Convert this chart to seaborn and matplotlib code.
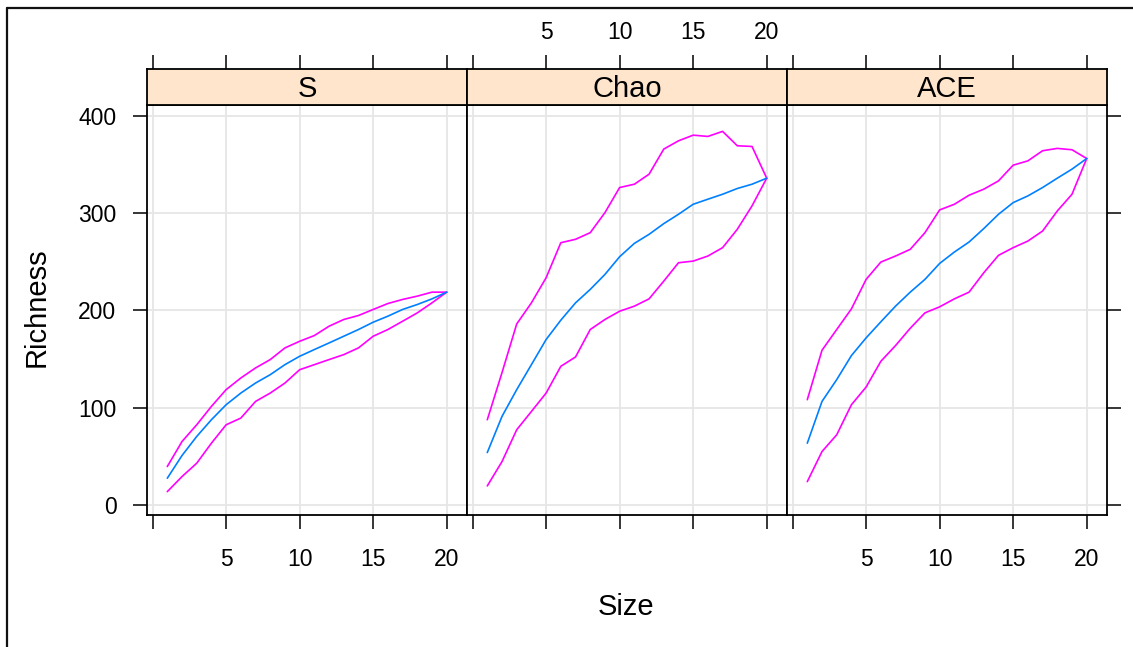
import numpy as np
import pandas as pd
import matplotlib
matplotlib.use("Agg")
import matplotlib.pyplot as plt
from matplotlib.lines import Line2D
import seaborn as sns

# rarefaction-style richness curves
size = list(range(1, 21))

s_mean = [27.5, 50.8, 70.4, 87.6, 103, 115, 125.3, 133.9, 144.2, 152.8,
          159.7, 166.5, 173.4, 180.3, 187.8, 194, 200.9, 206, 211.8, 218.7]
s_upper = [39.5, 65.2, 82.4, 101.3, 118.5, 130.5, 140.8, 149.4, 161.4, 168.2,
           174.1, 183.7, 190.6, 194.7, 200.9, 207, 211.2, 214.6, 218.7, 218.7]
s_lower = [13.7, 29.2, 42.9, 63.5, 82.4, 89.3, 106.4, 115, 125.3, 139,
           144.2, 149.4, 154.5, 161.4, 173.4, 180.3, 188.8, 197.4, 207.7, 218.7]

chao_mean = [53.9, 91, 118.5, 144.2, 170, 189.9, 207.7, 221.5, 236.9, 255.1,
             268.8, 278.1, 289.1, 298.7, 309, 314.2, 319.3, 325.2, 329.6, 335.8]
chao_upper = [87.6, 136, 186, 207.7, 233.5, 269.5, 273, 279.8, 300.4, 326.2,
              329.6, 339.9, 365.7, 374.2, 380, 378.7, 383.9, 369.1, 368.4, 335.8]
chao_lower = [19.6, 44.6, 77.3, 96.1, 115, 142.5, 152.1, 180.3, 190.6, 199.1,
              204.3, 211.8, 230, 248.9, 250.6, 255.8, 264.4, 283.3, 307.3, 335.8]

ace_mean = [63.5, 106.4, 128.8, 153.5, 171.7, 188.2, 204.3, 218.7, 231.8, 248.2,
            259.9, 270.2, 284, 298.7, 310.7, 317.6, 326.2, 335.8, 345.1, 356]
ace_upper = [108.2, 159, 180.3, 201.5, 231.8, 249.6, 255.8, 262.7, 279.8, 303.2,
             309, 318.3, 324.5, 333, 349.2, 353.6, 364, 366.4, 365, 356]
ace_lower = [24, 54.9, 72.1, 103, 121.2, 147.6, 163.8, 181.6, 197.4, 203.6,
             211.8, 218.7, 238.6, 256.5, 264.4, 271.2, 281.5, 302.1, 319.3, 356]

panels = ["S", "Chao", "ACE"]
x_ticks = [0, 5, 10, 15, 20]
x_ticklabels = ["", "5", "10", "15", "20"]
y_ticks = [0, 100, 200, 300, 400]

series = {
    "S": {"mean": s_mean, "upper": s_upper, "lower": s_lower},
    "Chao": {"mean": chao_mean, "upper": chao_upper, "lower": chao_lower},
    "ACE": {"mean": ace_mean, "upper": ace_upper, "lower": ace_lower},
}
rows = []
for p, d in series.items():
    for band, vals in d.items():
        for x, v in zip(size, vals):
            rows.append({"panel": p, "band": band, "Size": x, "Richness": v})
df = pd.DataFrame(rows)

sns.set_theme(style="white")
plt.rcParams["font.family"] = ["Liberation Sans", "DejaVu Sans"]

W, H = 1133, 647
fig = plt.figure(figsize=(W / 100, H / 100), dpi=100)

colors = {"mean": "#0080FF", "upper": "#FF00FF", "lower": "#FF00FF"}
strip_col = "#FFE5CC"
grid_col = "#E6E6E6"
lw_box = 1.3
tick_kw = dict(length=10, width=1.1, color="black", labelsize=16.5,
               labelcolor="black", direction="out")

left0, pw = 147, 320
top_px, bot_px = 105, 515
strip_top = 69.3
xlim = (-0.38, 21.38)
ylim = (-10.3, 411)

for i, p in enumerate(panels):
    x0 = (left0 + i * pw) / W
    ax = fig.add_axes([x0, (H - bot_px) / H, pw / W, (bot_px - top_px) / H])
    sax = fig.add_axes([x0, (H - top_px) / H, pw / W, (top_px - strip_top) / H])

    for yv in y_ticks:
        ax.axhline(yv, color=grid_col, lw=1.3, zorder=0)
    for xv in x_ticks:
        ax.axvline(xv, color=grid_col, lw=1.3, zorder=0)

    sub = df[df["panel"] == p]
    for band in ["upper", "lower", "mean"]:
        sns.lineplot(data=sub[sub["band"] == band], x="Size", y="Richness",
                     color=colors[band], lw=1.2, ax=ax, legend=False)

    ax.set_xlim(*xlim)
    ax.set_ylim(*ylim)
    ax.set_xlabel("")
    ax.set_ylabel("")
    ax.set_facecolor("white")
    for sp in ax.spines.values():
        sp.set_visible(True)
        sp.set_color("black")
        sp.set_linewidth(lw_box)

    ax.set_xticks(x_ticks)
    ax.tick_params(axis="x", which="both", bottom=True, top=False, pad=14, **tick_kw)
    if p == "Chao":
        ax.set_xticklabels([])
    else:
        ax.set_xticklabels(x_ticklabels)

    ax.set_yticks(y_ticks)
    if i == 0:
        ax.tick_params(axis="y", left=True, right=False, pad=12, **tick_kw)
        ax.set_yticklabels([str(v) for v in y_ticks])
    elif i == 2:
        ax.yaxis.tick_right()
        ax.tick_params(axis="y", left=False, right=True, labelright=False, **tick_kw)
    else:
        ax.tick_params(axis="y", left=False, right=False, labelleft=False)

    # strip on top, carrying the top ticks
    sax.set_facecolor(strip_col)
    sax.set_xlim(*xlim)
    sax.set_ylim(0, 1)
    sax.set_yticks([])
    for sp in sax.spines.values():
        sp.set_visible(True)
        sp.set_color("black")
        sp.set_linewidth(lw_box)
    sax.xaxis.tick_top()
    sax.set_xticks(x_ticks)
    sax.tick_params(axis="x", top=True, bottom=False, pad=8, **tick_kw)
    if p == "Chao":
        sax.set_xticklabels(x_ticklabels)
    else:
        sax.set_xticklabels([])
    sax.text(0.5, 0.45, p, transform=sax.transAxes, ha="center", va="center",
             fontsize=21, color="black")

fig.text(37 / W, (H - 307) / H, "Richness", rotation=90, ha="center",
         va="center", fontsize=21, color="black")
fig.text(626 / W, (H - 607) / H, "Size", ha="center", va="center",
         fontsize=21, color="black")

# outer frame of the screenshot (top and left edges)
fig.add_artist(Line2D([7 / W, 1], [1 - 8 / H, 1 - 8 / H], color="#111111",
                      lw=1.6, transform=fig.transFigure))
fig.add_artist(Line2D([7 / W, 7 / W], [0, 1 - 8 / H], color="#111111",
                      lw=1.6, transform=fig.transFigure))

fig.savefig("out.png", dpi=100)
plt.close(fig)
